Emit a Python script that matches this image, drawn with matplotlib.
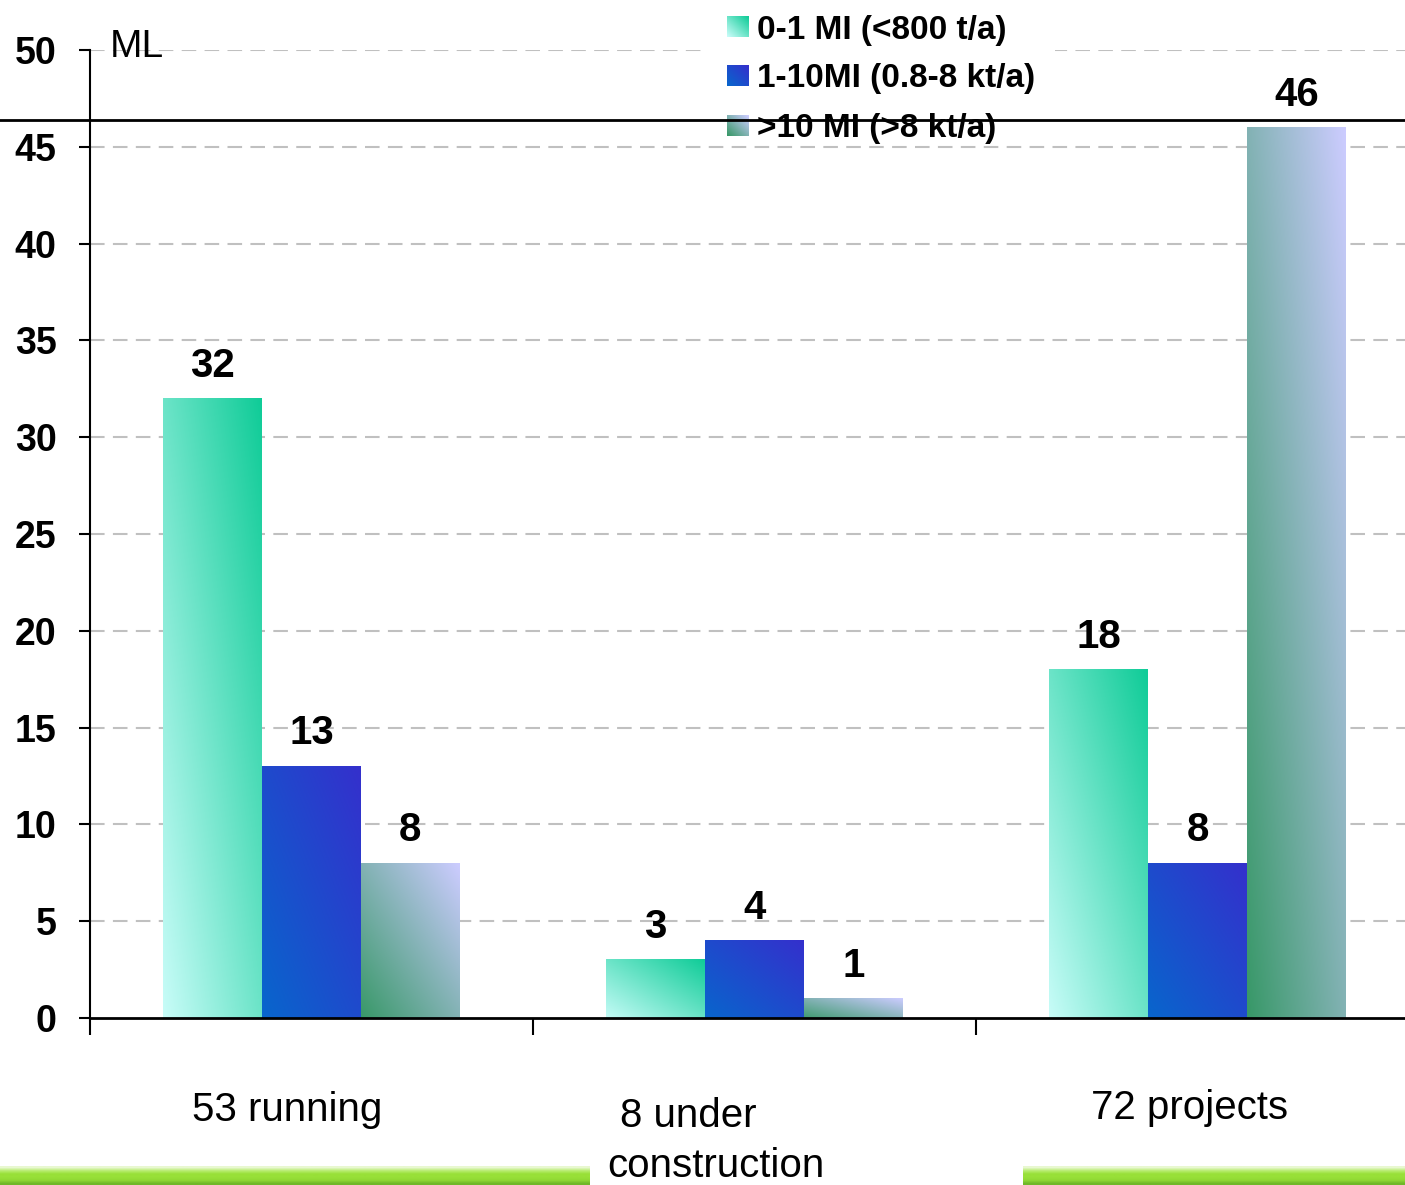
import numpy as np
import matplotlib.pyplot as plt
from matplotlib.colors import to_rgb
from matplotlib.patches import Rectangle
from matplotlib.lines import Line2D

plt.rcParams['font.family'] = ['Liberation Sans', 'DejaVu Sans']

# data
categories = ['53 running', '8 under', 'construction', '72 projects']
series_names = ['0-1 MI (<800 t/a)', '1-10MI (0.8-8 kt/a)', '>10 MI (>8 kt/a)']
small = [32, 3, 18]
medium = [13, 4, 8]
large = [8, 1, 46]
values = [small, medium, large]

# gradient colours (bottom-left -> top-right)
grads = [('#c8fcf8', '#10cc98'),
         ('#0866cc', '#3430cc'),
         ('#389868', '#ccccff')]

W, H = 1405, 1185
fig = plt.figure(figsize=(W / 100, H / 100), dpi=100)


def px(x0, y0, x1, y1):
    """pixel box (top-left origin) -> figure fraction [l, b, w, h]"""
    return [x0 / W, 1 - y1 / H, (x1 - x0) / W, (y1 - y0) / H]


ax = fig.add_axes(px(90, 50, 1419, 1018))


def grad_img(c0, c1, n=64):
    u = np.linspace(0, 1, n)
    uu, vv = np.meshgrid(u, u)
    t = ((uu + vv) / 2)[..., None]
    a = np.array(to_rgb(c0))
    b = np.array(to_rgb(c1))
    return a * (1 - t) + b * t


bw = 0.223
offsets = [-bw, 0, bw]
for s, vals in enumerate(values):
    img = grad_img(*grads[s])
    for i, v in enumerate(vals):
        x0 = i + offsets[s] - bw / 2
        ax.imshow(img, extent=(x0, x0 + bw, -0.15, v), origin='lower',
                  aspect='auto', interpolation='bilinear', zorder=2)
        ax.annotate(str(v), (i + offsets[s], v), xytext=(0, 10),
                    textcoords='offset points', ha='center', va='bottom',
                    fontsize=29, fontweight='bold', zorder=4)

ax.set_xlim(-0.5, 2.5)
ax.set_ylim(0, 50)
ax.set_yticks(range(0, 51, 5))
ax.set_yticklabels([str(t) for t in range(0, 51, 5)], fontsize=27,
                   fontweight='bold')
ax.set_xticks([-0.5, 0.5, 1.5])
ax.set_xticklabels([])
ax.tick_params(axis='x', direction='out', length=12, width=1.5)
ax.tick_params(axis='y', direction='out', length=8, width=1.5, pad=16)
for t in range(5, 51, 5):
    ax.axhline(t, color='#c0c0c0', lw=1.5, ls=(0, (7, 4)), zorder=1)
ax.spines['top'].set_visible(False)
ax.spines['right'].set_visible(False)
ax.spines['left'].set_linewidth(1.5)
ax.spines['bottom'].set_linewidth(2)
ax.spines['bottom'].set_zorder(5)

fig.text(110 / W, 1 - 47 / H, 'ML', fontsize=28, va='center', ha='left')

# category labels
fig.text(287 / W, 1 - 1110 / H, categories[0], fontsize=29, ha='center', va='center')
fig.text(688 / W, 1 - 1116 / H, categories[1], fontsize=29, ha='center', va='center')
fig.text(716 / W, 1 - 1166 / H, categories[2], fontsize=29, ha='center', va='center')
fig.text(1190 / W, 1 - 1108 / H, categories[3], fontsize=29, ha='center', va='center')

# legend box (white, covers gridlines)
fig.patches.append(Rectangle((705 / W, 1 - 140 / H), 350 / W, 140 / H,
                             transform=fig.transFigure, facecolor='white',
                             edgecolor='none', zorder=3))
leg_y = [27, 76, 126]
for s, y in enumerate(leg_y):
    lax = fig.add_axes(px(727, y - 11, 749, y + 10))
    lax.imshow(grad_img(*grads[s], n=16), origin='lower', aspect='auto',
               interpolation='bilinear')
    lax.set_axis_off()
    lax.set_zorder(4)
    fig.text(757 / W, 1 - (y + 3) / H, series_names[s], fontsize=24,
             fontweight='bold', va='center', ha='left', zorder=5)

# stray horizontal rule
fig.add_artist(Line2D([0, 1], [1 - 120 / H] * 2, color='black', lw=2,
                      transform=fig.transFigure, zorder=10))

# green strips at the bottom
strip = np.array([to_rgb(c) for c in
                  ['#e8f8d0', '#b8ec70', '#98e038', '#98e038', '#90d834',
                   '#70b828']])[:, None, :]
for x0, x1 in [(0, 590), (1023, 1405)]:
    sax = fig.add_axes(px(x0, 1166, x1, 1185))
    sax.imshow(strip, aspect='auto', interpolation='bilinear')
    sax.set_axis_off()

fig.savefig('out.png', dpi=100)
